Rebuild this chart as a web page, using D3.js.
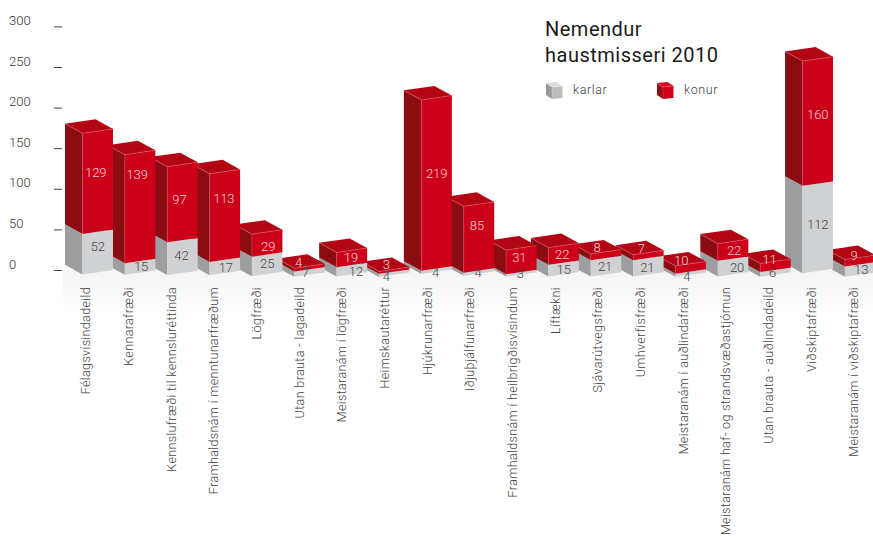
<!DOCTYPE html>
<html>
<head>
<meta charset="utf-8">
<script src="https://cdn.jsdelivr.net/npm/d3@7"></script>
<style>
  html, body { margin: 0; background: #fff; }
  svg { display: block; }
  text { font-family: Roboto, sans-serif; font-weight: 300; }
</style>
</head>
<body>
<div id="chart"></div>
<script>
const departments = ['Félagsvísindadeild', 'Kennarafræði', 'Kennslufræði til kennsluréttinda', 'Framhaldsnám í menntunarfræðum',
  'Lögfræði', 'Utan brauta - lagadeild', 'Meistaranám í lögfræði', 'Heimskautaréttur', 'Hjúkrunarfræði', 'Iðjuþjálfunarfræði',
  'Framhaldsnám í heilbrigðisvísindum', 'Líftækni', 'Sjávarútvegsfræði', 'Umhverfisfræði', 'Meistaranám í auðlindafræði',
  'Meistaranám haf- og strandsvæðastjórnun', 'Utan brauta - auðlindadeild', 'Viðskiptafræði', 'Meistaranám í viðskiptafræði'];
const karlar = [52, 15, 42, 17, 25, 7, 12, 4, 4, 4, 3, 15, 21, 21, 4, 20, 6, 112, 13];
const konur = [129, 139, 97, 113, 29, 4, 19, 3, 219, 85, 31, 22, 8, 7, 10, 22, 11, 160, 9];
const axisTicks = [0, 50, 100, 150, 200, 250, 300];
const titleLines = ['Nemendur', 'haustmisseri 2010'];
const seriesNames = ['karlar', 'konur'];

const width = 873, height = 536;
const depthX = 17.5, depthY = 9.6, frontW = 30.5, riseY = 4.4;
const grey = { front: '#d0d1d3', side: '#9d9ea0', edge: '#e4e5e6' };
const red = { front: '#cc0019', side: '#8b0d12', top: '#b20614', edge: '#dd5a6a' };

// the numbers were hand placed in the original, these are [dx, dy] from the middle of each segment
const greyNudge = [[0, -6], [1, 0], [-1, -1], [1, 1], [0, -1], [-4, 1], [4, 2], [-8, 3.5], [-1, 2], [-1, 0],
  [-1, 0], [0, 1.5], [-1, 0], [-1, 1], [-4, 3], [4, 1], [-3, 0], [0, -3], [1, 0]];
const redNudge = [[-2, -9], [-3, -32], [-3, -3], [-1, -17], [1, 3], [-11, -5], [-1, 0], [-8, -6], [0, -10], [-2, -12],
  [-2, -2], [-1.5, 0], [-9, -7], [-7, -7], [-9.5, -7], [1, 0], [-6, -6], [0, -7], [-6, -5]];

const svg = d3.select('#chart').append('svg').attr('width', width).attr('height', height);

const defs = svg.append('defs');
const floor = defs.append('linearGradient').attr('id', 'floor').attr('x1', 0).attr('x2', 0).attr('y1', 0).attr('y2', 1);
floor.append('stop').attr('offset', 0).attr('stop-color', '#f3f4f4');
floor.append('stop').attr('offset', 1).attr('stop-color', '#ffffff');
svg.append('rect').attr('x', 63).attr('y', 270).attr('width', width - 63).attr('height', 45).attr('fill', 'url(#floor)');

// scales
const axisY = d3.scaleLinear().domain([0, 300]).range([270, 26.4]);
const barH = d3.scaleLinear().domain([0, 300]).range([0, 234]);
const rightX = d3.scaleLinear().domain([0, 18]).range([113, 875.4]);
const baseY = d3.scaleLinear().domain([0, 272]).range([277, 273.2]);
const labelX = d3.scaleLinear().domain([0, 18]).range([86, 854]);

const axis = d3.axisLeft(axisY).tickValues(axisTicks).tickSize(8).tickPadding(25);
const axisG = svg.append('g').attr('transform', 'translate(62,0)').call(axis);
axisG.select('.domain').remove();
axisG.selectAll('line').attr('stroke', '#444').attr('stroke-width', 1);
axisG.selectAll('text').attr('text-anchor', 'start').attr('x', -53).attr('dy', '-0.14em')
  .attr('fill', '#333').style('font-size', '13px').style('font-family', 'Roboto').style('font-weight', 300);

const poly = pts => pts.map(p => p.join(',')).join(' ');

// one box: cx is the front corner, y0 bottom and y1 top of the corner edge
function box(g, cx, y0, y1, fw, dx, dy, rise, c, withTop) {
  g.append('polygon').attr('points', poly([[cx, y0], [cx, y1], [cx - dx, y1 - dy], [cx - dx, y0 - dy]])).attr('fill', c.side);
  g.append('polygon').attr('points', poly([[cx, y0], [cx + fw, y0 - rise], [cx + fw, y1 - rise], [cx, y1]])).attr('fill', c.front);
  if (withTop) {
    g.append('polygon').attr('points', poly([[cx, y1], [cx + fw, y1 - rise], [cx + fw - dx, y1 - rise - dy], [cx - dx, y1 - dy]])).attr('fill', c.top);
    g.append('polyline').attr('points', poly([[cx - dx, y1 - dy], [cx, y1], [cx + fw, y1 - rise]]))
      .attr('fill', 'none').attr('stroke', c.edge).attr('stroke-width', 0.6);
    g.append('line').attr('x1', cx).attr('x2', cx).attr('y1', y1).attr('y2', y0).attr('stroke', c.edge).attr('stroke-width', 0.4);
  }
}

// painted right to left, each bar hides the back of its right neighbour
const bars = svg.append('g');
d3.range(departments.length - 1, -1, -1).forEach(i => {
  const g = bars.append('g');
  const cx = rightX(i) - frontW;
  const y0 = baseY(karlar[i] + konur[i]);
  const ym = y0 - barH(karlar[i]);
  const yt = ym - barH(konur[i]);
  box(g, cx, y0, ym, frontW, depthX, depthY, riseY, grey, false);
  box(g, cx, ym, yt, frontW, depthX, depthY, riseY, red, true);
});

const valueLabels = svg.append('g').attr('text-anchor', 'middle').style('font-size', '13px').style('letter-spacing', '-0.1px');
departments.forEach((d, i) => {
  const x = rightX(i) - frontW / 2;
  const y0 = baseY(karlar[i] + konur[i]) - riseY / 2;
  const ym = y0 - barH(karlar[i]);
  const yt = ym - barH(konur[i]);
  valueLabels.append('text').attr('x', x + greyNudge[i][0]).attr('y', (y0 + ym) / 2 + greyNudge[i][1]).attr('dy', '0.35em')
    .attr('fill', '#444').text(karlar[i]);
  valueLabels.append('text').attr('x', x + redNudge[i][0]).attr('y', (ym + yt) / 2 + redNudge[i][1]).attr('dy', '0.35em')
    .attr('fill', '#f6d5d8').text(konur[i]);
});

// category labels
const catLabels = svg.append('g').attr('fill', '#444').style('font-size', '12.5px').style('letter-spacing', '0.37px');
departments.forEach((d, i) => {
  catLabels.append('text').attr('text-anchor', 'end').attr('dy', '0.35em')
    .attr('transform', `translate(${labelX(i)},287) rotate(-90)`).text(d);
});

// title
svg.append('g').attr('fill', '#1a1a1a').style('font-size', '20px').style('letter-spacing', '0.5px').selectAll('text').data(titleLines).join('text')
  .attr('x', 545).attr('y', (d, i) => 36 + i * 26).style('font-weight', 400).text(d => d);

// legend
const legendG = svg.append('g');
const legendX = [552, 663];
const legendColors = [
  { front: '#bcbdbf', side: '#98999b', top: '#dcdddd', edge: '#e4e5e6' },
  { front: '#d0021b', side: '#9a0b14', top: '#e2001a', edge: '#e4606f' }
];
seriesNames.forEach((name, i) => {
  box(legendG, legendX[i], 99, 87, 10.5, 6, 4, 1, legendColors[i], true);
  legendG.append('text').attr('x', legendX[i] + 21).attr('y', 94).attr('fill', '#444')
    .style('font-size', '12.5px').style('letter-spacing', '0.6px').text(name);
});
</script>
</body>
</html>
